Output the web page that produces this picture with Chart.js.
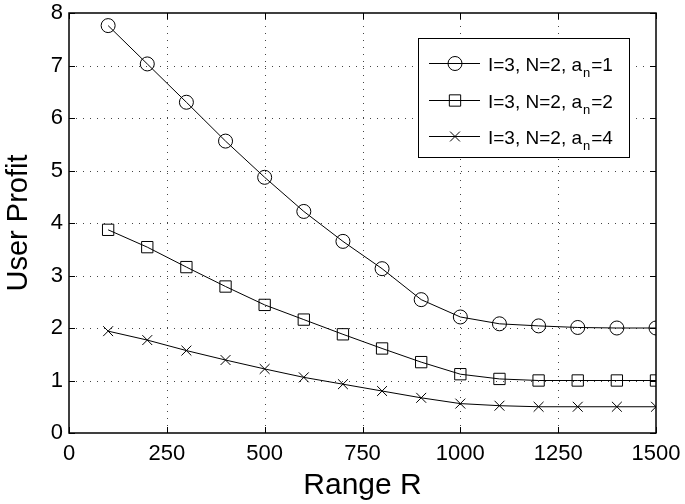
<!DOCTYPE html>
<html>
<head>
<meta charset="utf-8">
<script src="https://cdn.jsdelivr.net/npm/chart.js@4.4.1/dist/chart.umd.min.js"></script>
<style>
  html, body { margin: 0; padding: 0; background: #fff; }
  #wrap { width: 685px; height: 504px; }
</style>
</head>
<body>
<div id="wrap"><canvas id="profitChart" width="685" height="504"></canvas></div>
<script>
// data
const rangeR = [100, 200, 300, 400, 500, 600, 700, 800, 900, 1000, 1100, 1200, 1300, 1400, 1500];
const profitA1 = [7.76, 7.03, 6.30, 5.56, 4.87, 4.22, 3.65, 3.13, 2.54, 2.21, 2.08, 2.04, 2.01, 2.00, 2.00];
const profitA2 = [3.87, 3.54, 3.16, 2.79, 2.44, 2.16, 1.88, 1.61, 1.35, 1.12, 1.03, 1.00, 1.00, 1.00, 1.00];
const profitA4 = [1.94, 1.77, 1.57, 1.39, 1.22, 1.06, 0.93, 0.80, 0.67, 0.56, 0.52, 0.50, 0.50, 0.50, 0.50];
const seriesLabels = ['I=3, N=2, a_n=1', 'I=3, N=2, a_n=2', 'I=3, N=2, a_n=4'];
const xTicks = [0, 250, 500, 750, 1000, 1250, 1500];
const yTicks = [0, 1, 2, 3, 4, 5, 6, 7, 8];

const FONT = "'Liberation Sans', Arial, Helvetica, sans-serif";

function toPoints(ys) {
    return rangeR.map((r, i) => ({ x: r, y: ys[i] }));
}

function makeSet(label, ys, style, radius) {
    return {
        label: label,
        data: toPoints(ys),
        borderColor: '#000',
        borderWidth: 1,
        backgroundColor: 'rgba(0,0,0,0)',
        pointStyle: style,
        pointRadius: radius,
        pointBorderWidth: 1,
        pointBorderColor: '#000',
        pointBackgroundColor: 'rgba(0,0,0,0)',
        tension: 0
    };
}

// dotted grid, drawn under the lines
const gridPlugin = {
    id: 'dotGrid',
    beforeDatasetsDraw(chart) {
        const ctx = chart.ctx;
        const a = chart.chartArea;
        const xs = chart.scales.x, ys = chart.scales.y;
        ctx.save();
        ctx.strokeStyle = '#444';
        ctx.lineWidth = 1;
        ctx.setLineDash([1, 6]);
        ctx.beginPath();
        xTicks.slice(1, -1).forEach(v => {
            const px = Math.round(xs.getPixelForValue(v)) + 0.5;
            ctx.moveTo(px, a.bottom); ctx.lineTo(px, a.top);
        });
        yTicks.slice(1, -1).forEach(v => {
            const py = Math.round(ys.getPixelForValue(v)) + 0.5;
            ctx.moveTo(a.left, py); ctx.lineTo(a.right, py);
        });
        ctx.stroke();
        ctx.restore();
    }
};

// box round the plot + inward tick marks (matlab look)
const boxPlugin = {
    id: 'box',
    afterDatasetsDraw(chart) {
        const ctx = chart.ctx;
        const a = chart.chartArea;
        const xs = chart.scales.x, ys = chart.scales.y;
        ctx.save();
        ctx.strokeStyle = '#000';
        ctx.lineWidth = 1;
        ctx.beginPath();
        xTicks.forEach(v => {
            const px = Math.round(xs.getPixelForValue(v)) + 0.5;
            ctx.moveTo(px, a.bottom); ctx.lineTo(px, a.bottom - 6);
            ctx.moveTo(px, a.top); ctx.lineTo(px, a.top + 6);
        });
        yTicks.forEach(v => {
            const py = Math.round(ys.getPixelForValue(v)) + 0.5;
            ctx.moveTo(a.left, py); ctx.lineTo(a.left + 6, py);
            ctx.moveTo(a.right, py); ctx.lineTo(a.right - 6, py);
        });
        ctx.stroke();
        ctx.lineWidth = 1.5;
        ctx.strokeRect(a.left, a.top, a.right - a.left, a.bottom - a.top);
        ctx.restore();
    }
};

// legend with subscript n
const legendPlugin = {
    id: 'subLegend',
    afterDraw(chart) {
        const ctx = chart.ctx;
        const a = chart.chartArea;
        const w = 211, h = 119;
        const bx = Math.round(a.right) - 27 - w, by = Math.round(a.top) + 25;
        ctx.save();
        ctx.fillStyle = '#fff';
        ctx.fillRect(bx, by, w, h);
        ctx.strokeStyle = '#000';
        ctx.lineWidth = 1;
        ctx.strokeRect(bx + 0.5, by + 0.5, w, h);
        chart.data.datasets.forEach((ds, i) => {
            const cy = Math.round(by + 25 + i * 36.5) + 0.5;
            ctx.strokeStyle = '#000';
            ctx.lineWidth = 1;
            ctx.beginPath();
            ctx.moveTo(bx + 11, cy); ctx.lineTo(bx + 62, cy);
            ctx.stroke();
            ctx.fillStyle = 'rgba(0,0,0,0)';
            Chart.helpers.drawPoint(ctx, {
                pointStyle: ds.pointStyle, radius: ds.pointRadius, rotation: 0, borderWidth: 1
            }, bx + 37, cy);
            const parts = ds.label.split('_');
            const base = cy + 7;
            let tx = bx + 70;
            ctx.fillStyle = '#000';
            ctx.textBaseline = 'alphabetic';
            ctx.textAlign = 'left';
            ctx.font = '19px ' + FONT;
            ctx.fillText(parts[0], tx, base);
            tx += ctx.measureText(parts[0]).width;
            ctx.font = '13px ' + FONT;
            const sub = parts[1].charAt(0);
            ctx.fillText(sub, tx + 1, base + 6);
            tx += ctx.measureText(sub).width + 2;
            ctx.font = '19px ' + FONT;
            ctx.fillText(parts[1].slice(1), tx, base);
        });
        ctx.restore();
    }
};

const ctx = document.getElementById('profitChart').getContext('2d');
new Chart(ctx, {
    type: 'line',
    data: {
        datasets: [
            makeSet(seriesLabels[0], profitA1, 'circle', 7),
            makeSet(seriesLabels[1], profitA2, 'rect', 8),
            makeSet(seriesLabels[2], profitA4, 'crossRot', 7)
        ]
    },
    options: {
        responsive: false,
        animation: false,
        layout: { padding: { top: 13, right: 29, left: 0, bottom: 0 } },
        plugins: {
            legend: { display: false },
            tooltip: { enabled: false }
        },
        scales: {
            x: {
                type: 'linear',
                min: 0, max: 1500,
                afterFit(scale) {
                    scale.height = 71;
                    scale.paddingLeft = 0; scale.paddingRight = 0;
                },
                afterBuildTicks(scale) { scale.ticks = xTicks.map(v => ({ value: v })); },
                ticks: {
                    color: '#000',
                    font: { family: FONT, size: 22 },
                    padding: 8,
                    callback: v => String(v)
                },
                grid: { display: false, drawTicks: false, tickLength: 0 },
                border: { display: false },
                title: {
                    display: true,
                    text: 'Range R',
                    color: '#000',
                    font: { family: FONT, size: 30 },
                    padding: { top: 0, bottom: 0 }
                }
            },
            y: {
                type: 'linear',
                min: 0, max: 8,
                afterFit(scale) {
                    scale.width = 69;
                    scale.paddingTop = 0; scale.paddingBottom = 0;
                },
                afterBuildTicks(scale) { scale.ticks = yTicks.map(v => ({ value: v })); },
                ticks: {
                    color: '#000',
                    font: { family: FONT, size: 22 },
                    padding: 6,
                    callback: v => String(v)
                },
                grid: { display: false, drawTicks: false, tickLength: 0 },
                border: { display: false },
                title: {
                    display: true,
                    text: 'User Profit',
                    color: '#000',
                    font: { family: FONT, size: 29 },
                    padding: { top: 2, bottom: 0 }
                }
            }
        }
    },
    plugins: [gridPlugin, boxPlugin, legendPlugin]
});
</script>
</body>
</html>
